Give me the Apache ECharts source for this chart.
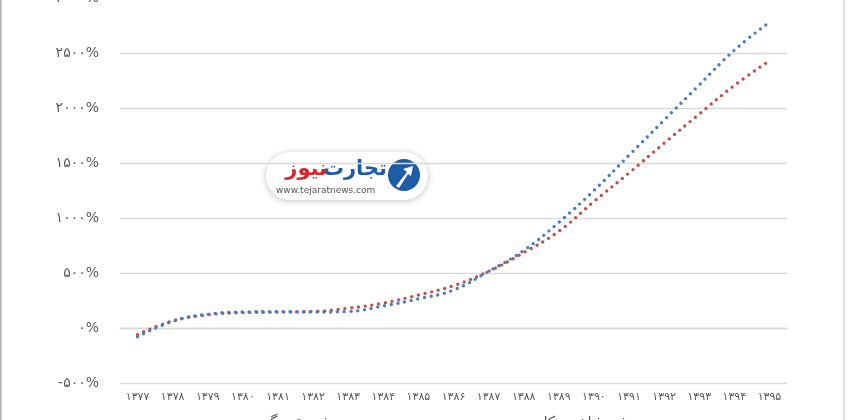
<!DOCTYPE html>
<html><head><meta charset="utf-8">
<script src="https://cdn.jsdelivr.net/npm/echarts@6/dist/echarts.min.js"></script>
<style>html,body{margin:0;padding:0;background:#fff}#c{width:850px;height:420px}</style>
</head><body><div id="c"></div>
<script>
var categories = ['۱۳۷۷','۱۳۷۸','۱۳۷۹','۱۳۸۰','۱۳۸۱','۱۳۸۲','۱۳۸۳','۱۳۸۴','۱۳۸۵','۱۳۸۶','۱۳۸۷','۱۳۸۸','۱۳۸۹','۱۳۹۰','۱۳۹۱','۱۳۹۲','۱۳۹۳','۱۳۹۴','۱۳۹۵'];
var blueSeries = [-80, 60, 125, 145, 148, 145, 150, 200, 265, 345, 515, 705, 960, 1250, 1570, 1890, 2210, 2525, 2780];
var redSeries = [-60, 65, 120, 140, 145, 150, 180, 227, 300, 385, 515, 685, 880, 1150, 1410, 1680, 1945, 2205, 2430];
var blueName = 'رشد شاخص کل بورس';
var redName = 'رشد نقدینگی';
var yMin = -500, yMax = 3000, yStep = 500;

var faDigits = '۰۱۲۳۴۵۶۷۸۹';
function toFa(n){ return String(n).replace(/[0-9]/g, function(d){ return faDigits[+d]; }); }

var chart = echarts.init(document.getElementById('c'), null, {renderer:'canvas'});
var font = '"DejaVu Sans", "Noto Sans", sans-serif';
var dot = {width: 3.4, type: [0, 6.8], cap: 'round'};
chart.setOption({
  animation: false,
  backgroundColor: '#fff',
  grid: {left: 120, right: 63, top: -2, bottom: 37, containLabel: false, outerBoundsMode: 'none'},
  legend: {
    bottom: -16, left: 'center', itemGap: 110, itemWidth: 40, itemHeight: 2, icon: 'rect',
    textStyle: {fontSize: 15, color: '#595959', fontFamily: font},
    data: [redName, blueName]
  },
  xAxis: {
    type: 'category', data: categories, boundaryGap: true,
    axisLine: {onZero: true, lineStyle: {color: '#d9d9d9', width: 1.3}},
    axisTick: {show: false},
    axisLabel: {color: '#595959', fontSize: 11, margin: 9, fontFamily: font}
  },
  yAxis: {
    type: 'value', min: yMin, max: yMax, interval: yStep,
    axisLine: {show: false}, axisTick: {show: false},
    splitLine: {lineStyle: {color: '#d9d9d9', width: 1.3}},
    axisLabel: {color: '#595959', fontSize: 14, margin: 21, fontFamily: font,
      formatter: function(v){ return (v < 0 ? '-' + toFa(-v) : toFa(v)) + '%'; }}
  },
  series: [
    {name: blueName, type: 'line', data: blueSeries, smooth: 0.45, showSymbol: false,
     itemStyle: {color: '#4a7ebb'}, lineStyle: Object.assign({color: '#4a7ebb'}, dot), z: 3},
    {name: redName, type: 'line', data: redSeries, smooth: 0.45, showSymbol: false,
     itemStyle: {color: '#c0504d'}, lineStyle: Object.assign({color: '#c0504d'}, dot), z: 2}
  ],
  graphic: [
    {type: 'line', shape: {x1: 0.8, y1: 0, x2: 0.8, y2: 420}, style: {stroke: '#b0b0b0', lineWidth: 1.6}},
    {type: 'line', shape: {x1: 844, y1: 0, x2: 844, y2: 420}, style: {stroke: '#c8c8c8', lineWidth: 1}},
    {type: 'group', children: [
      {type: 'rect', shape: {x: 266, y: 152, width: 162, height: 48, r: 24},
       style: {fill: '#fff', shadowBlur: 6, shadowColor: 'rgba(0,0,0,0.25)', shadowOffsetY: 1}},
      {type: 'circle', shape: {cx: 404, cy: 175, r: 16}, style: {fill: '#1f5ca6'}},
      {type: 'polygon', shape: {points: [[396,186],[407,172],[403,169],[413,166],[411,176],[408,174],[399,188]]},
       style: {fill: '#fff'}},
      {type: 'text', style: {x: 387, y: 170, text: 'تجارت', fill: '#1f5ca6', font: 'bold 21px "DejaVu Sans", sans-serif', align: 'right', verticalAlign: 'middle'}},
      {type: 'text', style: {x: 327, y: 170, text: 'نیوز', fill: '#d8262b', font: 'bold 21px "DejaVu Sans", sans-serif', align: 'right', verticalAlign: 'middle'}},
      {type: 'text', style: {x: 276, y: 191, text: 'www.tejaratnews.com', fill: '#555', font: '9px "DejaVu Sans", sans-serif', align: 'left', verticalAlign: 'middle'}}
    ]}
  ]
});
</script></body></html>
